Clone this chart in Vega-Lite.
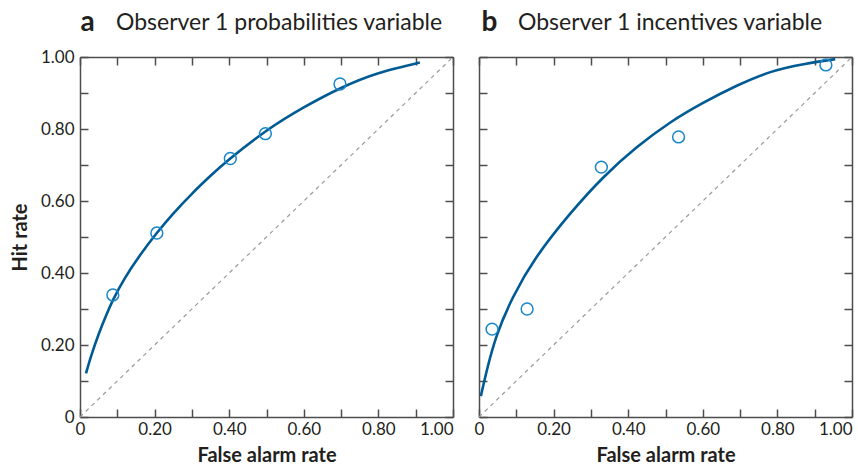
{
  "$schema": "https://vega.github.io/schema/vega-lite/v6.json",
  "padding": {"left": 10, "top": 8, "right": 5, "bottom": 1},
  "config": {
    "font": "Lato",
    "view": {"stroke": null},
    "axis": {
      "grid": false,
      "domainColor": "#4d4d4d",
      "domainWidth": 1.5,
      "tickColor": "#4d4d4d",
      "tickWidth": 1.5,
      "tickSize": -8,
      "labelFontSize": 17,
      "labelColor": "#231f20",
      "labelPadding": 15,
      "titleFontSize": 20,
      "titleFontWeight": "bold",
      "titleColor": "#231f20"
    },
    "title": {"fontSize": 23, "fontWeight": "normal", "color": "#231f20", "anchor": "start", "frame": "group"}
  },
  "datasets": {
    "diag": [{"f": 0, "h": 0}, {"f": 1, "h": 1}],
    "curveA": [
      {"f": 0.016, "h": 0.121}, {"f": 0.03, "h": 0.17}, {"f": 0.05, "h": 0.23},
      {"f": 0.07, "h": 0.282}, {"f": 0.09, "h": 0.328}, {"f": 0.12, "h": 0.385},
      {"f": 0.16, "h": 0.448}, {"f": 0.206, "h": 0.511}, {"f": 0.25, "h": 0.565},
      {"f": 0.3, "h": 0.62}, {"f": 0.35, "h": 0.67}, {"f": 0.403, "h": 0.718},
      {"f": 0.5, "h": 0.795}, {"f": 0.6, "h": 0.86}, {"f": 0.7, "h": 0.914},
      {"f": 0.8, "h": 0.955}, {"f": 0.911, "h": 0.985}
    ],
    "ptsA": [
      {"f": 0.088, "h": 0.339}, {"f": 0.206, "h": 0.511}, {"f": 0.403, "h": 0.718},
      {"f": 0.497, "h": 0.787}, {"f": 0.697, "h": 0.925}
    ],
    "curveB": [
      {"f": 0.005, "h": 0.058}, {"f": 0.02, "h": 0.125}, {"f": 0.047, "h": 0.224},
      {"f": 0.092, "h": 0.334}, {"f": 0.155, "h": 0.445}, {"f": 0.244, "h": 0.564},
      {"f": 0.334, "h": 0.666}, {"f": 0.423, "h": 0.749}, {"f": 0.513, "h": 0.818},
      {"f": 0.602, "h": 0.873}, {"f": 0.691, "h": 0.92}, {"f": 0.781, "h": 0.958},
      {"f": 0.87, "h": 0.98}, {"f": 0.955, "h": 0.994}
    ],
    "ptsB": [
      {"f": 0.035, "h": 0.244}, {"f": 0.129, "h": 0.3}, {"f": 0.328, "h": 0.694},
      {"f": 0.535, "h": 0.778}, {"f": 0.93, "h": 0.978}
    ]
  },
  "spacing": 18,
  "hconcat": [
    {
      "width": 373,
      "height": 360,
      "title": {"text": "Observer 1 probabilities variable", "dx": 36, "offset": -45, "baseline": "alphabetic"},
      "layer": [
        {
          "data": {"name": "diag"},
          "mark": {"type": "line", "color": "#9a9a9a", "strokeDash": [4, 4], "strokeWidth": 1.2},
          "encoding": {
            "x": {"field": "f", "type": "quantitative", "scale": {"domain": [0, 1], "nice": false},
              "axis": {"orient": "bottom", "title": "False alarm rate", "values": [0, 0.1, 0.2, 0.3, 0.4, 0.5, 0.6, 0.7, 0.8, 0.9, 1],
                "labelExpr": "datum.value == 0 ? '0' : (round(datum.value * 10) % 2 == 0 ? format(datum.value, '.2f') : '')",
                "labelAlign": {"condition": {"test": "datum.value == 1", "value": "right"}, "value": "center"},
                "labelPadding": 12, "titlePadding": 8}},
            "y": {"field": "h", "type": "quantitative", "scale": {"domain": [0, 1], "nice": false},
              "axis": {"orient": "left", "title": "Hit rate", "values": [0, 0.1, 0.2, 0.3, 0.4, 0.5, 0.6, 0.7, 0.8, 0.9, 1],
                "labelExpr": "datum.value == 0 ? '0' : (round(datum.value * 10) % 2 == 0 ? format(datum.value, '.2f') : '')",
                "labelPadding": 14, "titlePadding": 10}}
          }
        },
        {
          "data": {"name": "curveA"},
          "mark": {"type": "line", "interpolate": "natural", "color": "#005a94", "strokeWidth": 2.6},
          "encoding": {
            "x": {"field": "f", "type": "quantitative",
              "axis": {"orient": "top", "labels": false, "values": [0, 0.1, 0.2, 0.3, 0.4, 0.5, 0.6, 0.7, 0.8, 0.9, 1],
                "title": "a", "titleFontSize": 28, "titleX": 0, "titleY": -27, "titleAlign": "left", "titleBaseline": "alphabetic", "titleAngle": 0}},
            "y": {"field": "h", "type": "quantitative",
              "axis": {"orient": "right", "labels": false, "title": null, "values": [0, 0.1, 0.2, 0.3, 0.4, 0.5, 0.6, 0.7, 0.8, 0.9, 1]}}
          }
        },
        {
          "data": {"name": "ptsA"},
          "mark": {"type": "point", "shape": "circle", "filled": false, "size": 140, "color": "#1a87c8", "strokeWidth": 1.5, "opacity": 1},
          "encoding": {
            "x": {"field": "f", "type": "quantitative", "axis": null},
            "y": {"field": "h", "type": "quantitative", "axis": null}
          }
        }
      ],
      "resolve": {"axis": {"x": "independent", "y": "independent"}}
    },
    {
      "width": 373,
      "height": 360,
      "title": {"text": "Observer 1 incentives variable", "dx": 39, "offset": -45, "baseline": "alphabetic"},
      "layer": [
        {
          "data": {"name": "diag"},
          "mark": {"type": "line", "color": "#9a9a9a", "strokeDash": [4, 4], "strokeWidth": 1.2},
          "encoding": {
            "x": {"field": "f", "type": "quantitative", "scale": {"domain": [0, 1], "nice": false},
              "axis": {"orient": "bottom", "title": "False alarm rate", "values": [0, 0.1, 0.2, 0.3, 0.4, 0.5, 0.6, 0.7, 0.8, 0.9, 1],
                "labelExpr": "datum.value == 0 ? '0' : (round(datum.value * 10) % 2 == 0 ? format(datum.value, '.2f') : '')",
                "labelAlign": {"condition": {"test": "datum.value == 1", "value": "right"}, "value": "center"},
                "labelPadding": 12, "titlePadding": 8}},
            "y": {"field": "h", "type": "quantitative", "scale": {"domain": [0, 1], "nice": false},
              "axis": {"orient": "left", "title": null, "labels": false, "values": [0, 0.1, 0.2, 0.3, 0.4, 0.5, 0.6, 0.7, 0.8, 0.9, 1]}}
          }
        },
        {
          "data": {"name": "curveB"},
          "mark": {"type": "line", "interpolate": "natural", "color": "#005a94", "strokeWidth": 2.6},
          "encoding": {
            "x": {"field": "f", "type": "quantitative",
              "axis": {"orient": "top", "labels": false, "values": [0, 0.1, 0.2, 0.3, 0.4, 0.5, 0.6, 0.7, 0.8, 0.9, 1],
                "title": "b", "titleFontSize": 28, "titleX": 2, "titleY": -27, "titleAlign": "left", "titleBaseline": "alphabetic", "titleAngle": 0}},
            "y": {"field": "h", "type": "quantitative",
              "axis": {"orient": "right", "labels": false, "title": null, "values": [0, 0.1, 0.2, 0.3, 0.4, 0.5, 0.6, 0.7, 0.8, 0.9, 1]}}
          }
        },
        {
          "data": {"name": "ptsB"},
          "mark": {"type": "point", "shape": "circle", "filled": false, "size": 140, "color": "#1a87c8", "strokeWidth": 1.5, "opacity": 1},
          "encoding": {
            "x": {"field": "f", "type": "quantitative", "axis": null},
            "y": {"field": "h", "type": "quantitative", "axis": null}
          }
        }
      ],
      "resolve": {"axis": {"x": "independent", "y": "independent"}}
    }
  ]
}
